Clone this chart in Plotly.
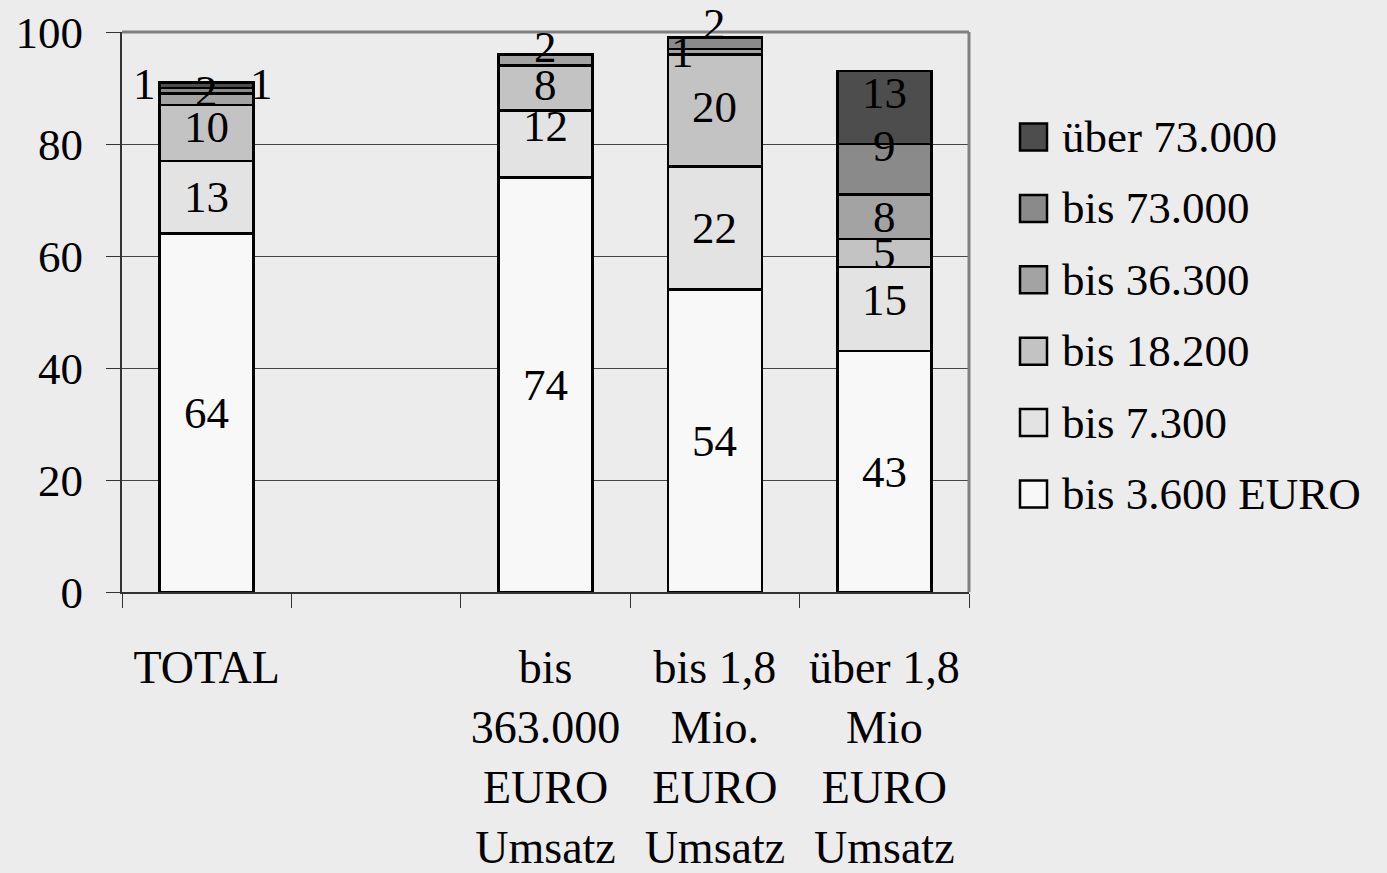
import plotly.graph_objects as go

categories = ["TOTAL", " ", "bis<br>363.000<br>EURO<br>Umsatz", "bis 1,8<br>Mio.<br>EURO<br>Umsatz", "über 1,8<br>Mio<br>EURO<br>Umsatz"]
series_names = ["bis 3.600 EURO", "bis 7.300", "bis 18.200", "bis 36.300", "bis 73.000", "über 73.000"]
bis_3600 = [64, None, 74, 54, 43]
bis_7300 = [13, None, 12, 22, 15]
bis_18200 = [10, None, 8, 20, 5]
bis_36300 = [2, None, 2, 1, 8]
bis_73000 = [1, None, 0, 2, 9]
ueber_73000 = [1, None, 0, 0, 13]
y_ticks = [0, 20, 40, 60, 80, 100]

series_values = [bis_3600, bis_7300, bis_18200, bis_36300, bis_73000, ueber_73000]
colors = ["#f8f8f8", "#e3e3e3", "#c3c3c3", "#a3a3a3", "#8a8a8a", "#4d4d4d"]

FONT = "Liberation Serif"
FS = 45

W, H = 1387, 873
ML, MR, MT, MB = 122, 418, 32, 281
PW = W - ML - MR
PH = H - MT - MB

# label offset styling (pixels) for crowded labels: (category index, series index) -> (xshift, yshift)
label_shift = {
    (0, 2): (0, 6), (0, 3): (0, 8), (0, 4): (-62, 7), (0, 5): (55, 1),
    (2, 1): (0, 18), (2, 2): (0, 3), (2, 3): (0, 13),
    (3, 2): (0, 3), (3, 3): (-32, 0), (3, 4): (0, 19),
    (4, 1): (0, 9), (4, 4): (0, 23), (4, 5): (0, 15),
}

fig = go.Figure()
for name, vals, col in zip(series_names, series_values, colors):
    fig.add_trace(go.Bar(
        x=categories, y=vals, name=name, showlegend=False,
        marker=dict(color=col, line=dict(color="black", width=2.5)),
        width=0.555,
    ))

annotations = []
for ci, cat in enumerate(categories):
    base = 0
    for si, vals in enumerate(series_values):
        v = vals[ci]
        if v is None or v == 0:
            continue
        xs, ys = label_shift.get((ci, si), (0, 0))
        annotations.append(dict(
            x=cat, y=base + v / 2, text=str(v), showarrow=False,
            xshift=xs, yshift=ys,
            font=dict(family=FONT, size=FS, color="black"),
        ))
        base += v

shapes = [
    dict(type="line", xref="x domain", yref="y domain", x0=0, x1=1, y0=1, y1=1,
         line=dict(color="#808080", width=3), layer="above"),
    dict(type="line", xref="x domain", yref="y domain", x0=1, x1=1, y0=0, y1=1,
         line=dict(color="#808080", width=3), layer="above"),
]

# manual legend (top entry = last series), styled like the reference
leg_top_px = 137      # centre of first legend entry, from top of figure
leg_step_px = 71.4    # spacing between entries
sw_x0_px, sw_size = 1020, 27
txt_x_px = 1060
for k, (name, col) in enumerate(zip(series_names[::-1], colors[::-1])):
    cy = leg_top_px + k * leg_step_px
    yc = (H - MB - cy) / PH
    half = (sw_size / 2) / PH
    shapes.append(dict(
        type="rect", xref="paper", yref="paper",
        x0=(sw_x0_px - ML) / PW, x1=(sw_x0_px + sw_size - ML) / PW,
        y0=yc - half, y1=yc + half,
        fillcolor=col, line=dict(color="black", width=2.5), layer="above",
    ))
    annotations.append(dict(
        xref="paper", yref="paper", x=(txt_x_px - ML) / PW, y=yc,
        xanchor="left", yanchor="middle", text=name, showarrow=False,
        font=dict(family=FONT, size=FS, color="black"),
    ))

fig.update_layout(
    barmode="stack",
    width=W, height=H,
    margin=dict(l=ML, r=MR, t=MT, b=MB, autoexpand=False),
    paper_bgcolor="#ececec", plot_bgcolor="#ececec",
    font=dict(family=FONT, size=FS, color="black"),
    annotations=annotations,
    shapes=shapes,
    showlegend=False,
    bargap=0.445,
)
fig.update_xaxes(
    type="category", categoryorder="array", categoryarray=categories,
    tickson="boundaries", ticks="outside", ticklen=14, tickcolor="#333",
    showline=True, linecolor="#333", linewidth=2, automargin=False,
    showgrid=False, ticklabelstandoff=34,
    tickfont=dict(family=FONT, size=46, color="black"),
)
fig.update_yaxes(
    range=[0, 100], tickvals=y_ticks, ticks="outside", ticklen=14, tickcolor="#333",
    showline=True, linecolor="#333", linewidth=2, automargin=False,
    showgrid=True, gridcolor="#454545", gridwidth=1.2, zeroline=False,
    ticklabelstandoff=14,
    tickfont=dict(family=FONT, size=FS, color="black"),
)

fig.write_html(
    "out.html",
    config={"displayModeBar": False},
    post_script="document.body.style.margin='0';document.body.style.overflow='hidden';",
)
